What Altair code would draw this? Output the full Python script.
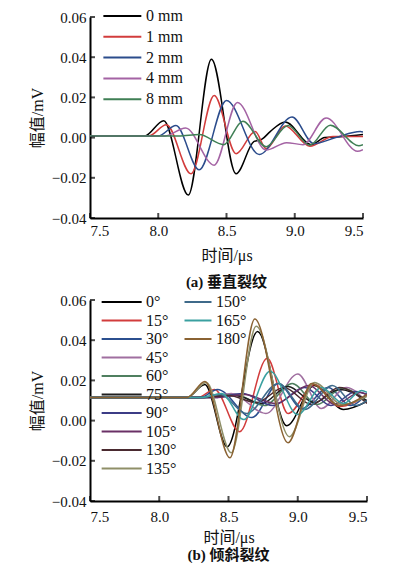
import altair as alt
import pandas as pd

X_DOMAIN = [7.5, 9.5]
Y_DOMAIN = [-0.04, 0.06]
X_TICKS = [7.5, 8.0, 8.5, 9.0, 9.5]
Y_TICKS = [-0.04, -0.02, 0.0, 0.02, 0.04, 0.06]

# ---------- panel (a): vertical crack, depth ----------
A_LABELS = ["0 mm", "1 mm", "2 mm", "4 mm", "8 mm"]
A_COLORS = ["#000000", "#d23c3c", "#2b4c8c", "#a463a4", "#3f7f55"]

A_0MM_T = [7.5, 7.9, 8.04, 8.22, 8.39, 8.57, 8.70, 8.76, 8.82, 8.93, 9.12, 9.22, 9.35, 9.5]
A_0MM_V = [0.0008, 0.0008, 0.0084, -0.0286, 0.039, -0.018, -0.002, -0.0008, 0.003, 0.0078, -0.0035, 0.0, 0.0005, 0.0015]
A_1MM_T = [7.5, 7.93, 8.06, 8.24, 8.41, 8.57, 8.71, 8.79, 8.93, 9.11, 9.28, 9.5]
A_1MM_V = [0.0008, 0.0008, 0.0064, -0.018, 0.021, -0.008, 0.003, -0.0055, 0.0058, -0.0043, 0.0005, 0.0005]
A_2MM_T = [7.5, 8.0, 8.13, 8.30, 8.50, 8.74, 8.98, 9.14, 9.3, 9.48, 9.5]
A_2MM_V = [0.0008, 0.0008, 0.006, -0.016, 0.0185, -0.0084, 0.0102, -0.003, 0.0, 0.003, 0.0028]
A_4MM_T = [7.5, 8.05, 8.2, 8.41, 8.58, 8.79, 8.94, 9.06, 9.23, 9.46, 9.5]
A_4MM_V = [0.0008, 0.0008, 0.0048, -0.0137, 0.0175, -0.0062, -0.0025, -0.0035, 0.0098, -0.0068, -0.006]
A_8MM_T = [7.5, 8.15, 8.3, 8.48, 8.62, 8.79, 8.95, 9.11, 9.26, 9.47, 9.5]
A_8MM_V = [0.0008, 0.0008, 0.0015, -0.0035, 0.0081, -0.0045, 0.006, -0.0038, 0.0062, -0.004, -0.0035]

A_SERIES = [(A_0MM_T, A_0MM_V), (A_1MM_T, A_1MM_V), (A_2MM_T, A_2MM_V),
            (A_4MM_T, A_4MM_V), (A_8MM_T, A_8MM_V)]

# ---------- panel (b): inclined crack, angle ----------
B_LABELS_1 = ["0°", "15°", "30°", "45°", "60°", "75°", "90°", "105°", "130°", "135°"]
B_COLORS_1 = ["#000000", "#d23c3c", "#2b4f8f", "#a06fa0", "#4f7f5f",
              "#1e1e1e", "#3c3c86", "#6a3066", "#4a2a30", "#8f8f68"]
B_LABELS_2 = ["150°", "165°", "180°"]
B_COLORS_2 = ["#3f6a8a", "#3aa0a0", "#8a6232"]

B_0_T = [7.5, 8.2, 8.33, 8.49, 8.71, 8.92, 9.12, 9.33, 9.5]
B_0_V = [0.0115, 0.0115, 0.018, -0.013, 0.0443, -0.0025, 0.0175, 0.0055, 0.0095]
B_15_T = [7.5, 8.28, 8.40, 8.58, 8.78, 8.93, 9.12, 9.3, 9.5]
B_15_V = [0.0115, 0.0115, 0.0155, -0.0055, 0.031, 0.0035, 0.018, 0.007, 0.0125]
B_30_T = [7.5, 8.3, 8.42, 8.67, 8.86, 9.03, 9.22, 9.38, 9.5]
B_30_V = [0.0115, 0.0115, 0.0155, 0.0015, 0.0185, 0.006, 0.0165, 0.0075, 0.0135]
B_45_T = [7.5, 8.35, 8.52, 8.77, 9.0, 9.17, 9.35, 9.5]
B_45_V = [0.0115, 0.0115, 0.0135, 0.0035, 0.0232, 0.006, 0.0165, 0.009]
B_60_T = [7.5, 8.35, 8.55, 8.76, 8.96, 9.14, 9.32, 9.5]
B_60_V = [0.0115, 0.0115, 0.013, 0.0075, 0.0185, 0.008, 0.016, 0.0095]
B_75_T = [7.5, 8.3, 8.55, 8.74, 8.93, 9.12, 9.3, 9.5]
B_75_V = [0.0115, 0.0115, 0.0125, 0.0085, 0.017, 0.009, 0.0155, 0.01]
B_90_T = [7.5, 8.4, 8.6, 8.82, 9.05, 9.24, 9.42, 9.5]
B_90_V = [0.0115, 0.0115, 0.0135, 0.0075, 0.0165, 0.0075, 0.0145, 0.013]
B_105_T = [7.5, 8.4, 8.62, 8.84, 9.08, 9.27, 9.45, 9.5]
B_105_V = [0.0115, 0.0115, 0.013, 0.0085, 0.0175, 0.008, 0.014, 0.013]
B_130_T = [7.5, 8.3, 8.5, 8.7, 8.9, 9.1, 9.3, 9.5]
B_130_V = [0.0115, 0.0115, 0.0125, 0.009, 0.0165, 0.008, 0.0165, 0.0085]
B_135_T = [7.5, 8.2, 8.34, 8.52, 8.70, 8.94, 9.12, 9.32, 9.5]
B_135_V = [0.0115, 0.0115, 0.019, -0.016, 0.047, -0.008, 0.019, 0.008, 0.012]
B_150_T = [7.5, 8.3, 8.44, 8.63, 8.86, 9.05, 9.25, 9.42, 9.5]
B_150_V = [0.0115, 0.0115, 0.013, 0.0035, 0.0185, 0.0055, 0.0175, 0.0075, 0.01]
B_165_T = [7.5, 8.3, 8.45, 8.61, 8.80, 9.0, 9.17, 9.33, 9.46, 9.5]
B_165_V = [0.0115, 0.0115, 0.0135, 0.0005, 0.0245, 0.003, 0.0165, 0.0085, 0.015, 0.014]
B_180_T = [7.5, 8.2, 8.33, 8.51, 8.69, 8.93, 9.1, 9.3, 9.5]
B_180_V = [0.0115, 0.0115, 0.0195, -0.0185, 0.0506, -0.011, 0.0185, 0.0075, 0.013]

B_SERIES_1 = [(B_0_T, B_0_V), (B_15_T, B_15_V), (B_30_T, B_30_V), (B_45_T, B_45_V),
              (B_60_T, B_60_V), (B_75_T, B_75_V), (B_90_T, B_90_V), (B_105_T, B_105_V),
              (B_130_T, B_130_V), (B_135_T, B_135_V)]
B_SERIES_2 = [(B_150_T, B_150_V), (B_165_T, B_165_V), (B_180_T, B_180_V)]

SERIF = "'Liberation Serif', 'Times New Roman', 'Noto Sans CJK SC', serif"
LINE_SYMBOL = "M-5,0H1"


def frame(labels, series):
    rows = []
    for name, (ts, vs) in zip(labels, series):
        for t, v in zip(ts, vs):
            rows.append({"s": name, "t": t, "v": v})
    return pd.DataFrame(rows)


def xenc(lp, tp):
    return alt.X("t:Q", scale=alt.Scale(domain=X_DOMAIN, nice=False, zero=False),
                 axis=alt.Axis(values=X_TICKS, format=".1f", title="时间/μs",
                               tickSize=0, labelPadding=lp, titlePadding=tp,
                               labelOverlap=False))


def yenc():
    return alt.Y("v:Q", scale=alt.Scale(domain=Y_DOMAIN, nice=False, zero=False),
                 axis=alt.Axis(values=Y_TICKS, format=".2f", title="幅值/mV",
                               tickSize=0, labelPadding=4, titlePadding=6,
                               labelOverlap=False))


def legend(x, y, size, pad, offset=3):
    return alt.Legend(orient="none", legendX=x, legendY=y, title=None,
                      symbolType=LINE_SYMBOL, symbolSize=size, symbolStrokeWidth=2,
                      labelFont=SERIF, labelFontSize=16, labelColor="#111",
                      rowPadding=pad, labelOffset=offset, padding=0)


def tick_layers(lp, tp):
    ydf = pd.DataFrame({"v": Y_TICKS})
    xdf = pd.DataFrame({"t": X_TICKS})
    yt = alt.Chart(ydf).mark_tick(orient="horizontal", size=5, thickness=2,
                                  xOffset=2.5, color="black").encode(
        y=yenc(), x=alt.datum(7.5))
    xt = alt.Chart(xdf).mark_tick(orient="vertical", size=5, thickness=2,
                                  yOffset=-2.5, color="black").encode(
        x=xenc(lp, tp), y=alt.datum(-0.04))
    return [yt, xt]


def caption(text, off):
    return alt.TitleParams(text=text, orient="bottom", anchor="middle", font=SERIF,
                           fontSize=15, fontWeight="bold", color="#111", offset=off)


dfa = frame(A_LABELS, A_SERIES)
lines_a = alt.Chart(dfa).mark_line(interpolate="monotone", strokeWidth=1.5, clip=True).encode(
    x=xenc(5, 9), y=yenc(),
    color=alt.Color("s:N", scale=alt.Scale(domain=A_LABELS, range=A_COLORS),
                    legend=legend(37, -9, 160, 4.8)))
panel_a = alt.layer(lines_a, *tick_layers(5, 9)).properties(
    width=273, height=201, title=caption("(a) 垂直裂纹", 12))

dfb1 = frame(B_LABELS_1, B_SERIES_1)
dfb2 = frame(B_LABELS_2, B_SERIES_2)
lines_b1 = alt.Chart(dfb1).mark_line(interpolate="monotone", strokeWidth=1.5, clip=True).encode(
    x=xenc(8, 5), y=yenc(),
    color=alt.Color("s:N", scale=alt.Scale(domain=B_LABELS_1, range=B_COLORS_1),
                    legend=legend(37, -6, 178, 2.5)))
lines_b2 = alt.Chart(dfb2).mark_line(interpolate="monotone", strokeWidth=1.5, clip=True).encode(
    x=xenc(8, 5), y=yenc(),
    stroke=alt.Stroke("s:N", scale=alt.Scale(domain=B_LABELS_2, range=B_COLORS_2),
                      legend=legend(109, -6, 81, 2.5, 1)))
panel_b = alt.layer(lines_b1, lines_b2, *tick_layers(8, 5)).resolve_scale(
    color="independent", stroke="independent").properties(
    width=277, height=201, title=caption("(b) 倾斜裂纹", 3))

chart = alt.vconcat(panel_a, panel_b, spacing=3).properties(
    padding={"left": 21, "top": 0, "right": 5, "bottom": 0},
    background="white").configure_view(stroke=None).configure_axis(
    domainColor="black", domainWidth=2, grid=False,
    labelFont=SERIF, labelFontSize=15, labelColor="#111",
    titleFont=SERIF, titleFontSize=16, titleFontWeight="normal", titleColor="#111")

chart.save("out.html", embed_options={"renderer": "svg", "actions": False})
